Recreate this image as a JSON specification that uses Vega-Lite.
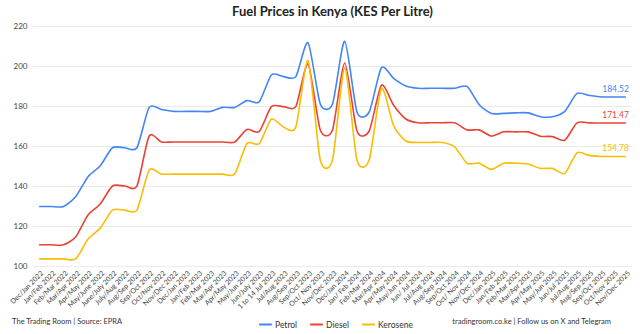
{
  "$schema": "https://vega.github.io/schema/vega-lite/v6.json",
  "width": 599,
  "height": 240,
  "autosize": {"type": "none"},
  "padding": {"left": 33, "top": 26, "right": 8, "bottom": 68},
  "background": "white",
  "title": {"text": "Fuel Prices in Kenya (KES Per Litre)", "font": "Lato", "fontSize": 13, "fontWeight": "bold", "color": "#222222", "anchor": "middle", "offset": 3},
  "config": {
    "view": {"stroke": null},
    "font": "Lato",
    "axisX": {"title": null, "labelAngle": -45, "labelFontSize": 7, "labelColor": "#444444", "labelPadding": 3, "ticks": false, "domain": false, "grid": false, "labelOverlap": false, "labelFont": "Lato"},
    "axisY": {"title": null, "values": [100, 120, 140, 160, 180, 200, 220], "grid": true, "gridColor": "#ebebeb", "domain": false, "ticks": false, "labelFontSize": 8, "labelColor": "#444444", "labelPadding": 6, "labelFont": "Lato", "labelOverlap": false}
  },
  "datasets": {
    "prices": [
      {"period": "Dec/Jan 2022", "Petrol": 129.72, "Diesel": 110.60, "Kerosene": 103.54},
      {"period": "Jan/Feb 2022", "Petrol": 129.72, "Diesel": 110.60, "Kerosene": 103.54},
      {"period": "Feb/Mar 2022", "Petrol": 129.72, "Diesel": 110.60, "Kerosene": 103.54},
      {"period": "Mar/Apr 2022", "Petrol": 134.72, "Diesel": 114.60, "Kerosene": 103.54},
      {"period": "Apr/May 2022", "Petrol": 144.62, "Diesel": 125.50, "Kerosene": 113.44},
      {"period": "May/June 2022", "Petrol": 150.12, "Diesel": 131.00, "Kerosene": 118.94},
      {"period": "June/July 2022", "Petrol": 159.12, "Diesel": 140.00, "Kerosene": 127.94},
      {"period": "July/Aug 2022", "Petrol": 159.12, "Diesel": 140.00, "Kerosene": 127.94},
      {"period": "Aug/Sep 2022", "Petrol": 159.12, "Diesel": 140.00, "Kerosene": 127.94},
      {"period": "Sep/Oct 2022", "Petrol": 179.30, "Diesel": 165.00, "Kerosene": 147.94},
      {"period": "Oct/Nov 2022", "Petrol": 178.28, "Diesel": 162.00, "Kerosene": 145.94},
      {"period": "Nov/Dec 2022", "Petrol": 177.30, "Diesel": 162.00, "Kerosene": 145.94},
      {"period": "Dec/Jan 2023", "Petrol": 177.30, "Diesel": 162.00, "Kerosene": 145.94},
      {"period": "Jan/Feb 2023", "Petrol": 177.30, "Diesel": 162.00, "Kerosene": 145.94},
      {"period": "Feb/Mar 2023", "Petrol": 177.30, "Diesel": 162.00, "Kerosene": 145.94},
      {"period": "Mar/Apr 2023", "Petrol": 179.30, "Diesel": 162.00, "Kerosene": 145.94},
      {"period": "Apr/May 2023", "Petrol": 179.30, "Diesel": 162.00, "Kerosene": 145.94},
      {"period": "May/Jun 2023", "Petrol": 182.70, "Diesel": 168.30, "Kerosene": 161.30},
      {"period": "Jun/July 2023", "Petrol": 182.04, "Diesel": 167.20, "Kerosene": 161.10},
      {"period": "1 to 14 Jul 2023", "Petrol": 195.53, "Diesel": 179.67, "Kerosene": 173.44},
      {"period": "Jul/Aug 2023", "Petrol": 194.68, "Diesel": 179.67, "Kerosene": 169.48},
      {"period": "Aug/Sep 2023", "Petrol": 194.68, "Diesel": 179.67, "Kerosene": 169.48},
      {"period": "Sep/Oct 2023", "Petrol": 211.64, "Diesel": 200.99, "Kerosene": 202.61},
      {"period": "Oct/ Nov 2023", "Petrol": 181.00, "Diesel": 168.00, "Kerosene": 153.00},
      {"period": "Nov/Dec 2023", "Petrol": 181.00, "Diesel": 168.00, "Kerosene": 153.00},
      {"period": "Dec/Jan 2024", "Petrol": 212.36, "Diesel": 201.47, "Kerosene": 199.05},
      {"period": "Jan/ Feb 2024", "Petrol": 177.00, "Diesel": 167.50, "Kerosene": 153.00},
      {"period": "Feb/Mar 2024", "Petrol": 177.00, "Diesel": 167.50, "Kerosene": 153.00},
      {"period": "Mar/Apr 2024", "Petrol": 199.15, "Diesel": 190.38, "Kerosene": 188.74},
      {"period": "Apr/May 2024", "Petrol": 193.84, "Diesel": 180.38, "Kerosene": 170.06},
      {"period": "May/Jun 2024", "Petrol": 190.00, "Diesel": 173.50, "Kerosene": 162.50},
      {"period": "Jun/ Jul 2024", "Petrol": 188.84, "Diesel": 171.60, "Kerosene": 161.75},
      {"period": "Jul/Aug 2024", "Petrol": 188.84, "Diesel": 171.60, "Kerosene": 161.75},
      {"period": "Aug/Sep 2024", "Petrol": 188.84, "Diesel": 171.60, "Kerosene": 161.75},
      {"period": "Sep/Oct 2024", "Petrol": 188.84, "Diesel": 171.60, "Kerosene": 159.50},
      {"period": "Oct/ Nov 2024", "Petrol": 189.80, "Diesel": 168.06, "Kerosene": 151.39},
      {"period": "Nov/Dec 2024", "Petrol": 180.66, "Diesel": 168.06, "Kerosene": 151.39},
      {"period": "Dec/Jan 2025", "Petrol": 176.29, "Diesel": 165.00, "Kerosene": 148.30},
      {"period": "Jan/Feb 2025", "Petrol": 176.29, "Diesel": 167.12, "Kerosene": 151.39},
      {"period": "Feb/Mar 2025", "Petrol": 176.58, "Diesel": 167.06, "Kerosene": 151.39},
      {"period": "Mar/Apr 2025", "Petrol": 176.58, "Diesel": 167.06, "Kerosene": 151.00},
      {"period": "Apr/May 2025", "Petrol": 174.63, "Diesel": 164.91, "Kerosene": 148.80},
      {"period": "May/Jun 2025", "Petrol": 174.63, "Diesel": 164.70, "Kerosene": 148.80},
      {"period": "Jun/Jul 2025", "Petrol": 177.32, "Diesel": 162.90, "Kerosene": 146.30},
      {"period": "Jul/Aug 2025", "Petrol": 186.31, "Diesel": 171.58, "Kerosene": 156.58},
      {"period": "Aug/Sep 2025", "Petrol": 185.31, "Diesel": 171.58, "Kerosene": 155.30},
      {"period": "Sep/Oct 2025", "Petrol": 184.52, "Diesel": 171.47, "Kerosene": 154.78},
      {"period": "Oct/Nov 2025", "Petrol": 184.52, "Diesel": 171.47, "Kerosene": 154.78},
      {"period": "Nov/Dec 2025", "Petrol": 184.52, "Diesel": 171.47, "Kerosene": 154.78}
    ],
    "leftNote": [{"note": "The Trading Room | Source: EPRA"}],
    "rightNote": [{"note": "tradingroom.co.ke | Follow us on X and Telegram"}]
  },
  "layer": [
    {
      "data": {"name": "prices"},
      "transform": [{"fold": ["Petrol", "Diesel", "Kerosene"], "as": ["fuel", "price"]}],
      "mark": {"type": "line", "interpolate": "cardinal", "tension": 0.3, "strokeWidth": 1.6},
      "encoding": {
        "x": {"field": "period", "type": "ordinal", "sort": null, "scale": {"type": "point", "padding": 0.5}},
        "y": {"field": "price", "type": "quantitative", "scale": {"domain": [100, 220], "zero": false, "nice": false}},
        "color": {
          "field": "fuel", "type": "nominal",
          "scale": {"domain": ["Petrol", "Diesel", "Kerosene"], "range": ["#4285F4", "#EA4335", "#FBBC04"]},
          "legend": {"title": null, "orient": "none", "legendX": 225, "legendY": 291, "direction": "horizontal", "symbolType": "stroke", "symbolStrokeWidth": 2, "symbolSize": 160, "labelFontSize": 8.5, "labelColor": "#333333", "labelOffset": 2, "columnPadding": 8, "labelFont": "Lato"}
        }
      }
    },
    {
      "data": {"name": "prices"},
      "transform": [
        {"fold": ["Petrol", "Diesel", "Kerosene"], "as": ["fuel", "price"]},
        {"filter": "datum.period == 'Nov/Dec 2025'"}
      ],
      "mark": {"type": "text", "align": "right", "dx": 3, "dy": -8, "fontSize": 8.5, "font": "Lato"},
      "encoding": {
        "x": {"field": "period", "type": "ordinal", "sort": null},
        "y": {"field": "price", "type": "quantitative"},
        "text": {"field": "price", "type": "quantitative", "format": ".2f"},
        "color": {"field": "fuel", "type": "nominal"}
      }
    },
    {
      "data": {"name": "leftNote"},
      "mark": {"type": "text", "align": "left", "baseline": "middle", "dx": -27, "fontSize": 7.5, "font": "Lato", "color": "#333333"},
      "encoding": {
        "x": {"datum": "Dec/Jan 2022", "type": "ordinal"},
        "y": {"datum": 72, "type": "quantitative"},
        "text": {"field": "note"}
      }
    },
    {
      "data": {"name": "rightNote"},
      "mark": {"type": "text", "align": "right", "baseline": "middle", "dx": -15, "fontSize": 7.5, "font": "Lato", "color": "#333333"},
      "encoding": {
        "x": {"datum": "Nov/Dec 2025", "type": "ordinal"},
        "y": {"datum": 72, "type": "quantitative"},
        "text": {"field": "note"}
      }
    }
  ]
}
